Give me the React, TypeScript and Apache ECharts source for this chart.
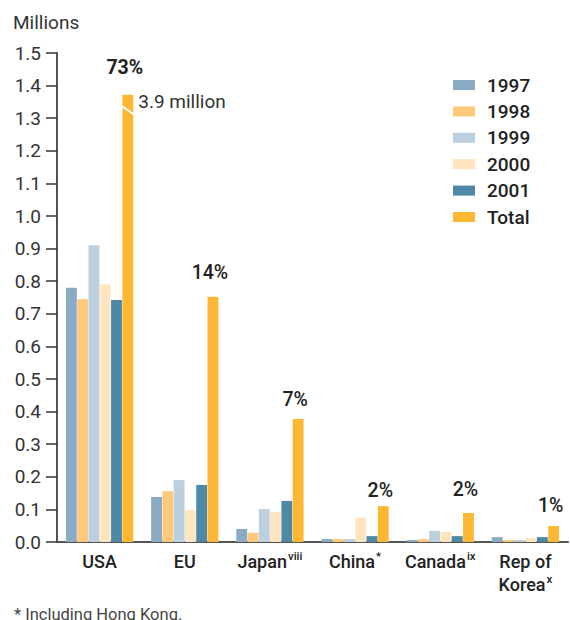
import React, { useEffect, useRef } from "react";
import * as echarts from "echarts";

const categories = ["USA", "EU", "Japan", "China", "Canada", "Rep of\nKorea"];
const superscripts = ["", "", "viii", "*", "ix", "x"];
const years = ["1997", "1998", "1999", "2000", "2001", "Total"];
const v1997 = [0.78, 0.138, 0.04, 0.009, 0.006, 0.015];
const v1998 = [0.745, 0.156, 0.028, 0.009, 0.009, 0.006];
const v1999 = [0.91, 0.19, 0.101, 0.009, 0.034, 0.006];
const v2000 = [0.79, 0.098, 0.092, 0.075, 0.031, 0.012];
const v2001 = [0.742, 0.175, 0.126, 0.018, 0.018, 0.015];
// USA total is drawn as a broken bar (real value 3.9 million)
const vTotal = [1.372, 0.752, 0.377, 0.11, 0.089, 0.049];
const totalShares = ["73%", "14%", "7%", "2%", "2%", "1%"];
const usaTotalActual = "3.9 million";
const colors = ["#8aabc4", "#fec97a", "#bccfde", "#fee5bf", "#4d88a7", "#fdb733"];
const footnote = "* Including Hong Kong.";
// style: gap between each total bar and its share label
const shareLabelDistance = [17, 14, 10, 6, 13, 11];

const FONT = "Roboto, 'Noto Sans', sans-serif";

export default function App() {
  const ref = useRef<HTMLDivElement>(null);
  useEffect(() => {
    if (!ref.current) return;
    const chart = echarts.init(ref.current, null, { renderer: "svg" });
    const seriesData = [v1997, v1998, v1999, v2000, v2001, vTotal];
    const baseGraphic: any[] = [
      {
        id: "unit",
        type: "text",
        left: 13,
        top: 13,
        style: { text: "Millions", font: `400 19px ${FONT}`, fill: "#333" },
      },
      {
        id: "foot",
        type: "text",
        left: 14,
        top: 606,
        style: { text: footnote, font: `400 16.5px ${FONT}`, fill: "#444" },
      },
    ];
    const totalData = vTotal.map((v, i) => ({
      value: v,
      label: {
        distance: shareLabelDistance[i],
        fontWeight: i === 0 ? 700 : 500,
      },
    }));
    const option: any = {
      animation: false,
      textStyle: { fontFamily: FONT },
      grid: { left: 57, right: 2, top: 53, bottom: 78, containLabel: false },
      legend: {
        orient: "vertical",
        left: 448,
        top: 70.5,
        itemWidth: 22,
        itemHeight: 10,
        itemGap: 7.4,
        icon: "rect",
        data: years,
        textStyle: {
          fontSize: 19,
          fontWeight: 500,
          color: "#222",
          lineHeight: 19,
          padding: [0, 0, 0, 7],
        },
      },
      xAxis: {
        type: "category",
        data: categories,
        axisLine: { lineStyle: { color: "#555", width: 2 } },
        axisTick: { show: false },
        axisLabel: {
          margin: 8,
          interval: 0,
          formatter: (value: string, index: number) => {
            const lines = value.split("\n");
            const sup = superscripts[index];
            return (
              lines.map((l) => `{a|${l}}`).join("\n") + (sup ? `{sup|${sup}}` : "")
            );
          },
          rich: {
            a: { fontSize: 18, fontWeight: 500, color: "#222", lineHeight: 23, fontFamily: FONT },
            sup: {
              fontSize: 11.5,
              fontWeight: 500,
              color: "#222",
              lineHeight: 23,
              verticalAlign: "top",
              padding: [0, 0, 10, 1],
              fontFamily: FONT,
            },
          },
        },
      },
      yAxis: {
        type: "value",
        min: 0,
        max: 1.5,
        interval: 0.1,
        splitLine: { show: false },
        axisLine: { show: true, lineStyle: { color: "#555", width: 2 } },
        axisTick: { show: true, length: 11, lineStyle: { color: "#333", width: 1.5 } },
        axisLabel: {
          fontSize: 19,
          color: "#333",
          margin: 16,
          formatter: (v: number) => v.toFixed(1),
        },
      },
      series: years.map((y, i) => ({
        name: y,
        type: "bar",
        data: i === 5 ? totalData : seriesData[i],
        barCategoryGap: "21%",
        barGap: "4%",
        itemStyle: { color: colors[i] },
        label:
          i === 5
            ? {
                show: true,
                position: "top",
                offset: [-3, 0],
                fontSize: 19.5,
                fontWeight: 500,
                color: "#222",
                formatter: (p: any) => totalShares[p.dataIndex],
              }
            : { show: false },
      })),
      graphic: baseGraphic,
    };
    chart.setOption(option);

    try {
      const model: any = (chart as any).getModel();
      const s = model.getSeriesByIndex(5);
      const layout = s.getData().getItemLayout(0);
      if (layout) {
        const top = Math.min(layout.y, layout.y + layout.height);
        const left = layout.x;
        const right = layout.x + layout.width;
        chart.setOption({
          graphic: [
            ...baseGraphic,
            {
              id: "break",
              type: "line",
              z: 100,
              shape: { x1: left - 1, y1: top + 11, x2: right + 1, y2: top + 20 },
              style: { stroke: "#fff", lineWidth: 2 },
            },
            {
              id: "actual",
              type: "text",
              z: 100,
              x: right + 5,
              y: top + 7,
              style: {
                text: usaTotalActual,
                font: `400 19px ${FONT}`,
                fill: "#333",
                verticalAlign: "middle",
                align: "left",
              },
            },
          ],
        });
      }
    } catch (e) {
      // ignore
    }
    return () => chart.dispose();
  }, []);
  return (
    <div
      ref={ref}
      style={{ position: "absolute", left: 0, top: 0, width: 570, height: 620 }}
    />
  );
}
